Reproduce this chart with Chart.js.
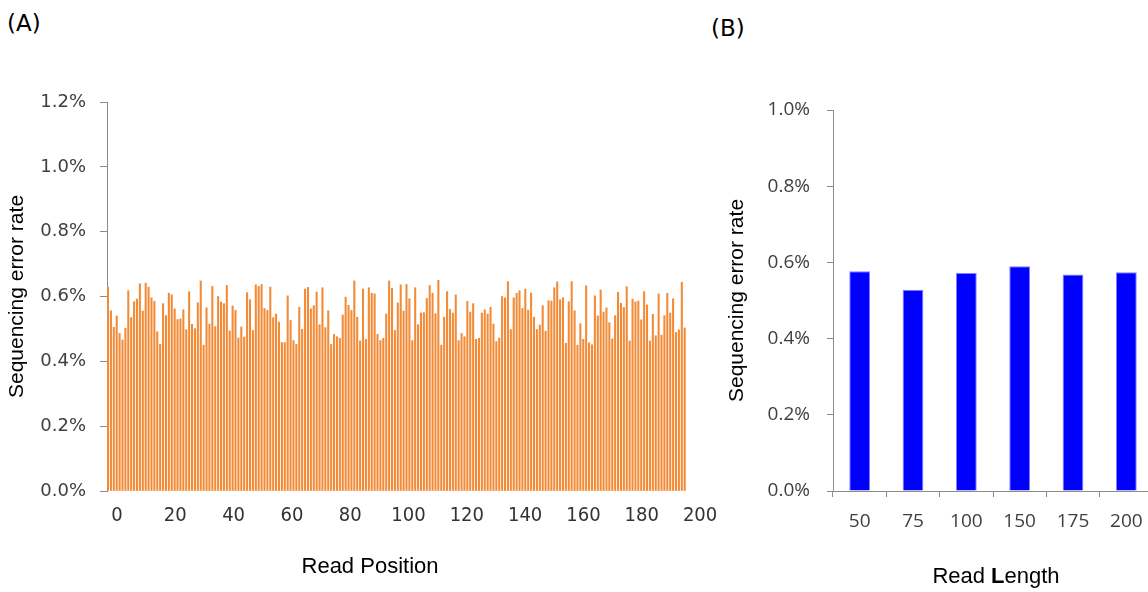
<!DOCTYPE html>
<html>
<head>
<meta charset="utf-8">
<script src="https://cdn.jsdelivr.net/npm/chart.js@4/dist/chart.umd.min.js"></script>
<style>
  html, body { margin: 0; padding: 0; background: #fff; width: 1148px; height: 592px; overflow: hidden; }
  .panel { position: absolute; top: 0; }
  .tag { position: absolute; font-family: 'DejaVu Sans', sans-serif; font-size: 23px; color: #000; line-height: normal; }
</style>
</head>
<body>
<div class="tag" style="left:7px; top:10px;">(A)</div>
<div class="tag" style="left:711px; top:15px;">(B)</div>
<div class="panel" style="left:0; width:730px; height:592px;"><canvas id="chartA" width="730" height="592"></canvas></div>
<div class="panel" style="left:714px; width:446px; height:592px;"><canvas id="chartB" width="446" height="592"></canvas></div>

<script>
// ---- Panel A: sequencing error rate (%) by read position ----
const readPositions = Array.from({ length: 200 }, (_, i) => i + 1);
const errorRateByPosition = [
  0.629, 0.556, 0.505, 0.540, 0.486, 0.466, 0.502, 0.618, 0.535, 0.584,
  0.592, 0.639, 0.555, 0.641, 0.629, 0.596, 0.585, 0.491, 0.452, 0.578,
  0.541, 0.610, 0.605, 0.562, 0.529, 0.531, 0.559, 0.498, 0.615, 0.514,
  0.501, 0.581,
  0.648, 0.450, 0.565, 0.515, 0.631, 0.507, 0.600, 0.583, 0.578, 0.634,
  0.494, 0.571, 0.557, 0.472, 0.506, 0.475, 0.612, 0.590, 0.495, 0.636,
  0.631, 0.637, 0.563, 0.557, 0.629, 0.535, 0.546, 0.521, 0.458, 0.458,
  0.602, 0.526, 0.464,
  0.452, 0.567, 0.499, 0.623, 0.628, 0.562, 0.572, 0.614, 0.513, 0.627,
  0.504, 0.556, 0.452, 0.483, 0.476, 0.471, 0.543, 0.598, 0.573, 0.557,
  0.648, 0.536, 0.463, 0.623, 0.468, 0.627, 0.610, 0.608, 0.483, 0.464,
  0.471, 0.546, 0.648,
  0.625, 0.495, 0.580, 0.636, 0.555, 0.637, 0.593, 0.464, 0.627, 0.513,
  0.549, 0.550, 0.594, 0.634, 0.610, 0.547, 0.650, 0.450, 0.536, 0.615,
  0.560, 0.549, 0.605, 0.464, 0.486, 0.476, 0.585, 0.552, 0.578, 0.468,
  0.471, 0.549, 0.559,
  0.546, 0.567, 0.515, 0.461, 0.472, 0.600, 0.596, 0.646, 0.498, 0.596,
  0.610, 0.618, 0.563, 0.623, 0.558, 0.611, 0.536, 0.498, 0.512, 0.572,
  0.493, 0.587, 0.586, 0.627, 0.645, 0.590, 0.596, 0.456, 0.584, 0.646,
  0.556, 0.450, 0.516,
  0.468, 0.633, 0.457, 0.451, 0.602, 0.540, 0.620, 0.552, 0.565, 0.519,
  0.469, 0.541, 0.613, 0.579, 0.566, 0.630, 0.463, 0.592, 0.583, 0.586,
  0.528, 0.615, 0.574, 0.463, 0.545, 0.479, 0.608, 0.481, 0.541, 0.610,
  0.549, 0.593, 0.489, 0.497, 0.644, 0.503
];
const positionTicks = [0, 20, 40, 60, 80, 100, 120, 140, 160, 180, 200];
const rateTicksA = [0, 0.2, 0.4, 0.6, 0.8, 1.0, 1.2];

// ---- Panel B: mean sequencing error rate (%) by read length ----
const readLengths = ['50', '75', '100', '150', '175', '200'];
const errorRateByLength = [0.577, 0.528, 0.572, 0.590, 0.568, 0.574];
const rateTicksB = [0, 0.2, 0.4, 0.6, 0.8, 1.0];

const AXIS_GREY = '#8c8c8c';
const TICK_TEXT = '#404040';
const pct = v => Number(v).toFixed(1) + '%';

// Axis caption drawn as text runs, so a single letter can be set in bold.
const axisCaption = {
  id: 'axisCaption',
  afterDraw(chart, args, opts) {
    if (!opts || !opts.parts) return;
    const ctx = chart.ctx;
    const fontFor = p => (p.bold ? 'bold ' : '') + opts.size + 'px ' + opts.family;
    ctx.save();
    ctx.fillStyle = opts.color;
    ctx.textBaseline = 'middle';
    ctx.textAlign = 'left';
    let total = 0;
    opts.parts.forEach(p => { ctx.font = fontFor(p); total += ctx.measureText(p.text).width; });
    let x = opts.x - total / 2;
    opts.parts.forEach(p => {
      ctx.font = fontFor(p);
      ctx.fillText(p.text, x, opts.y);
      x += ctx.measureText(p.text).width;
    });
    ctx.restore();
  }
};

Chart.defaults.font.family = "'Open Sans', sans-serif";

new Chart(document.getElementById('chartA'), {
  type: 'bar',
  data: {
    datasets: [{
      data: readPositions.map((p, i) => ({ x: p, y: errorRateByPosition[i] })),
      backgroundColor: '#f28a36',
      barThickness: 1.4,
      xAxisID: 'x',
      yAxisID: 'y'
    }]
  },
  options: {
    responsive: false,
    animation: false,
    layout: { padding: { left: 0, right: 18, top: 102, bottom: 0 } },
    plugins: {
      legend: { display: false },
      tooltip: { enabled: false },
      axisCaption: {
        parts: [{ text: 'Read Position' }],
        x: 370, y: 567, size: 22, family: "'Liberation Sans', Arial, sans-serif", color: '#000'
      }
    },
    scales: {
      // bar positions
      x: { type: 'linear', display: false, offset: false, grid: { offset: false }, min: 0.655, max: 209.42 },
      // labelled position scale
      xt: {
        type: 'linear', position: 'bottom', offset: false, min: -3.43, max: 204.1,
        afterBuildTicks: s => { s.ticks = positionTicks.map(v => ({ value: v })); },
        grid: { display: false, drawTicks: false, offset: false },
        border: { display: false },
        ticks: {
          padding: 13, color: '#333',
          font: { family: "'Liberation Sans Narrow', 'DejaVu Sans Condensed', Roboto, sans-serif", size: 20 }
        },
        afterFit: s => { s.height = 101; s.paddingLeft = 0; s.paddingRight = 0; }
      },
      y: {
        min: 0, max: 1.2,
        afterBuildTicks: s => { s.ticks = rateTicksA.map(v => ({ value: v })); },
        ticks: { callback: pct, padding: 14, color: TICK_TEXT, font: { family: "'DejaVu Sans', sans-serif", size: 18 } },
        grid: { drawOnChartArea: false, drawTicks: true, tickLength: 7, color: AXIS_GREY },
        border: { display: true, color: AXIS_GREY },
        title: {
          display: true, text: 'Sequencing error rate', color: '#000',
          font: { family: "'Liberation Sans', Arial, sans-serif", size: 21 },
          padding: { top: 5, bottom: 0 }
        },
        afterFit: s => { s.width = 107; }
      }
    }
  },
  plugins: [axisCaption]
});

new Chart(document.getElementById('chartB'), {
  type: 'bar',
  data: {
    labels: readLengths,
    datasets: [{
      data: errorRateByLength,
      backgroundColor: '#0000ff',
      borderColor: '#8080ff',
      borderWidth: 1,
      barPercentage: 0.39,
      categoryPercentage: 1
    }]
  },
  options: {
    responsive: false,
    animation: false,
    layout: { padding: { left: 0, right: 7, top: 110, bottom: 0 } },
    plugins: {
      legend: { display: false },
      tooltip: { enabled: false },
      axisCaption: {
        parts: [{ text: 'Read ' }, { text: 'L', bold: true }, { text: 'ength' }],
        x: 282, y: 577, size: 22, family: "'Liberation Sans', Arial, sans-serif", color: '#000'
      }
    },
    scales: {
      x: {
        grid: { drawOnChartArea: false, drawTicks: true, tickLength: 6, color: AXIS_GREY, offset: true },
        border: { display: true, color: AXIS_GREY },
        ticks: { padding: 13, color: TICK_TEXT, font: { family: "'Open Sans', sans-serif", size: 19 } },
        afterFit: s => { s.height = 101; }
      },
      y: {
        min: 0, max: 1.0,
        afterBuildTicks: s => { s.ticks = rateTicksB.map(v => ({ value: v })); },
        ticks: { callback: pct, padding: 17, color: TICK_TEXT, font: { family: "'Open Sans', sans-serif", size: 19 } },
        grid: { drawOnChartArea: false, drawTicks: true, tickLength: 6, color: AXIS_GREY },
        border: { display: true, color: AXIS_GREY },
        title: {
          display: true, text: 'Sequencing error rate', color: '#000',
          font: { family: "'Liberation Sans', Arial, sans-serif", size: 21 },
          padding: { top: 11, bottom: 0 }
        },
        afterFit: s => { s.width = 119; }
      }
    }
  },
  plugins: [axisCaption]
});
</script>
</body>
</html>
